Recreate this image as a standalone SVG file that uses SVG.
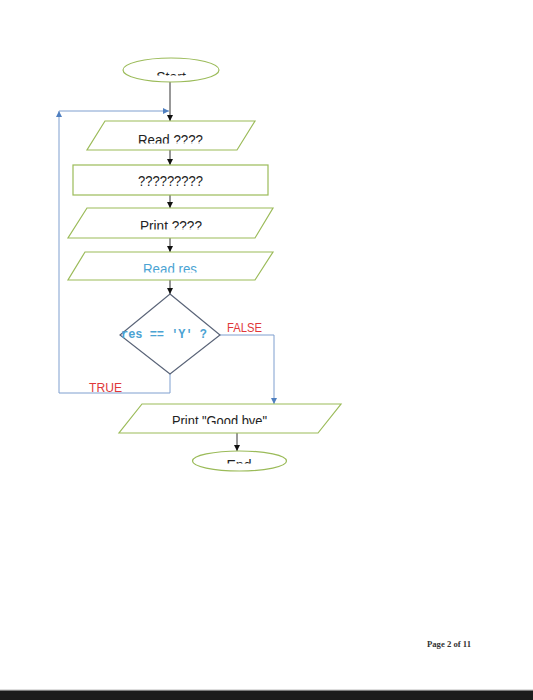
<svg xmlns="http://www.w3.org/2000/svg" width="533" height="700" viewBox="0 0 533 700">
<style>
.shape{fill:#ffffff;stroke:#9bbb59;stroke-width:1.2}
.dia{fill:#ffffff;stroke:#5a6478;stroke-width:1.2}
.lbl{font-family:"Liberation Sans",Arial,sans-serif;font-size:14px;fill:#222222;text-anchor:middle}
.blue{fill:#4ba3d3}
.code{font-family:"Liberation Mono","Courier New",monospace;font-size:12px;font-weight:bold;fill:#4ba3d3}
.red{font-family:"Liberation Sans",Arial,sans-serif;font-size:12.5px;fill:#e0383a}
.con{fill:none;stroke:#333333;stroke-width:1}
.bcon{fill:none;stroke:#7f9fcf;stroke-width:1}
</style>
<defs>
<marker id="ah" viewBox="0 0 10 10" refX="10" refY="5" markerWidth="6" markerHeight="6" orient="auto" markerUnits="userSpaceOnUse">
<path d="M0,0 L10,5 L0,10 z" fill="#111111"/>
</marker>
<marker id="bh" viewBox="0 0 10 10" refX="10" refY="5" markerWidth="6" markerHeight="6" orient="auto" markerUnits="userSpaceOnUse">
<path d="M0,0 L10,5 L0,10 z" fill="#4f7fc0"/>
</marker>
<clipPath id="cStart"><rect x="100" y="50" width="140" height="25.5"/></clipPath>
<clipPath id="cRead"><rect x="80" y="120" width="180" height="23.5"/></clipPath>
<clipPath id="cPrint"><rect x="60" y="207" width="220" height="22.5"/></clipPath>
<clipPath id="cRes"><rect x="60" y="251" width="220" height="21.5"/></clipPath>
<clipPath id="cBye"><rect x="110" y="403" width="240" height="21"/></clipPath>
<clipPath id="cEnd"><rect x="180" y="440" width="120" height="23.5"/></clipPath>
</defs>
<rect width="533" height="700" fill="#ffffff"/>

<g id="connectors">
<line class="con" x1="170" y1="82" x2="170" y2="121" marker-end="url(#ah)"/>
<line class="con" x1="170" y1="150" x2="170" y2="165" marker-end="url(#ah)"/>
<line class="con" x1="170" y1="195" x2="170" y2="208" marker-end="url(#ah)"/>
<line class="con" x1="170" y1="238" x2="170" y2="252" marker-end="url(#ah)"/>
<line class="con" x1="170" y1="280" x2="170" y2="294" marker-end="url(#ah)"/>
<polyline class="bcon" points="220,335 274,335 274,404" marker-end="url(#bh)"/>
<polyline class="bcon" points="170,374 170,393 59,393 59,111" marker-end="url(#bh)"/>
<line class="bcon" x1="59" y1="111" x2="169" y2="111" marker-end="url(#bh)"/>
<line class="con" x1="237" y1="433" x2="237" y2="451" marker-end="url(#ah)"/>
</g>

<g id="start">
<ellipse class="shape" cx="171" cy="70" rx="48" ry="12"/>
<text class="lbl" x="171" y="81.5" font-size="12" clip-path="url(#cStart)">Start</text>
</g>

<g id="read">
<polygon class="shape" points="105,121 255,121 237,150 87,150"/>
<text class="lbl" x="170.5" y="145" textLength="65" lengthAdjust="spacingAndGlyphs" clip-path="url(#cRead)">Read ????</text>
</g>

<g id="process">
<rect class="shape" x="73" y="165" width="195" height="30"/>
<text class="lbl" x="170.5" y="185.5" textLength="65" lengthAdjust="spacingAndGlyphs">?????????</text>
</g>

<g id="print">
<polygon class="shape" points="87,208 273,208 255,238 68,238"/>
<text class="lbl" x="171" y="231" textLength="62" lengthAdjust="spacingAndGlyphs" clip-path="url(#cPrint)">Print ????</text>
</g>

<g id="readres">
<polygon class="shape" points="85,252 273,252 255,280 68,280"/>
<text class="lbl blue" x="170" y="274" textLength="54" lengthAdjust="spacingAndGlyphs" clip-path="url(#cRes)">Read res</text>
</g>

<g id="decision">
<polygon class="dia" points="170,294 220,335 170,374 120,335"/>
<text class="code" x="121" y="338" textLength="86" lengthAdjust="spacingAndGlyphs">res == 'Y' ?</text>
<text class="red" x="227" y="332" textLength="35" lengthAdjust="spacingAndGlyphs">FALSE</text>
<text class="red" x="89" y="392" textLength="33" lengthAdjust="spacingAndGlyphs">TRUE</text>
</g>

<g id="goodbye">
<polygon class="shape" points="142,404 341,404 318,433 119,433"/>
<text class="lbl" x="219.5" y="426" textLength="95" lengthAdjust="spacingAndGlyphs" clip-path="url(#cBye)">Print "Good bye"</text>
</g>

<g id="end">
<ellipse class="shape" cx="239.5" cy="461" rx="47" ry="10"/>
<text class="lbl" x="239" y="469.5" font-size="12" clip-path="url(#cEnd)">End</text>
</g>

<text x="427" y="647" font-family="'Liberation Serif','Times New Roman',serif" font-size="8" font-weight="bold" fill="#333333" textLength="44" lengthAdjust="spacingAndGlyphs">Page 2 of 11</text>

<rect x="0" y="689.5" width="533" height="1" fill="#bbbbbb"/>
<rect x="0" y="690.5" width="533" height="9.5" fill="#1c1c1c"/>
</svg>
